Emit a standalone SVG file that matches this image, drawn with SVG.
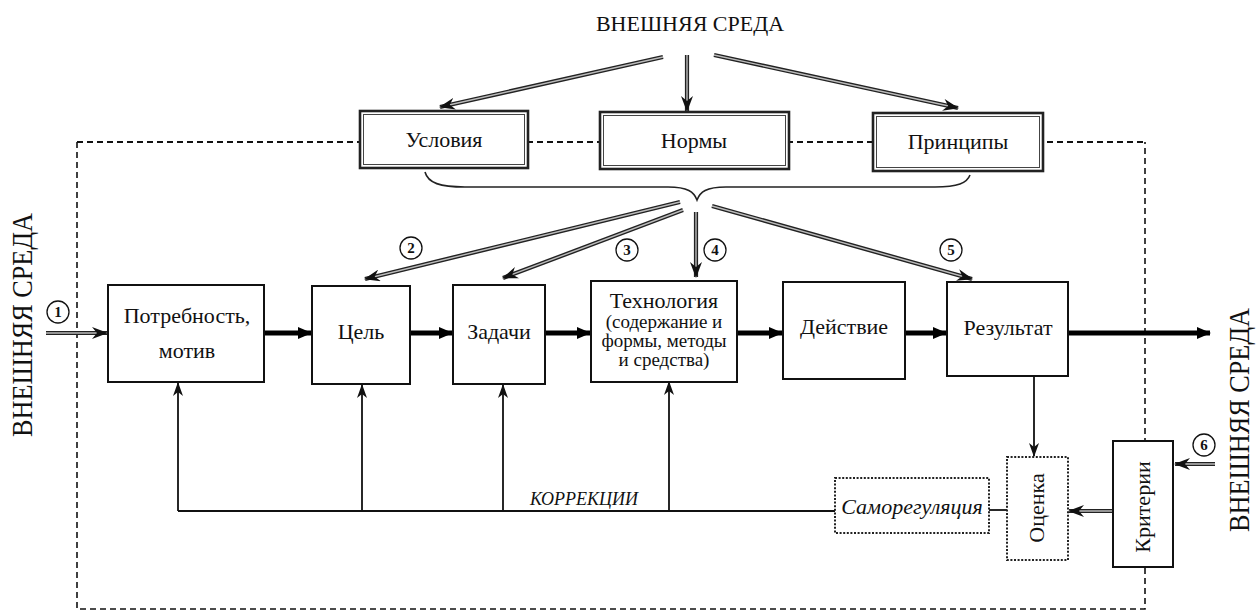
<svg xmlns="http://www.w3.org/2000/svg" xmlns:xlink="http://www.w3.org/1999/xlink" width="1256" height="612" viewBox="0 0 1256 612">
<style>
text{font-family:"Liberation Serif","Times New Roman",serif;fill:#111}
.lbl{font-size:22px;text-anchor:middle}
.sub{font-size:19px;text-anchor:middle}
.it{font-style:italic}
.num{font-size:15px;font-weight:bold;text-anchor:middle}
.side{font-size:30px}
.box{fill:#fff;stroke:#111;stroke-width:2}
.tb{fill:#fff;stroke:#222;stroke-width:2.6}
.tbi{fill:none;stroke:#444;stroke-width:1}
.dot{fill:#fff;stroke:#222;stroke-width:2;stroke-dasharray:2 1.6}
.dash{fill:none;stroke:#111;stroke-width:1.6;stroke-dasharray:6 4}
.dasht{fill:none;stroke:#111;stroke-width:2.2;stroke-dasharray:6 4}
.circ{fill:#fff;stroke:#111;stroke-width:1.3}
.thick{fill:none;stroke:#000;stroke-width:5;marker-end:url(#mThick)}
.thin{fill:none;stroke:#111;stroke-width:1.8}
.thinA{fill:none;stroke:#111;stroke-width:1.8;marker-end:url(#mThin)}
.dO{fill:none;stroke:#222;stroke-width:4.2}
.dI{fill:none;stroke:#bbb;stroke-width:1.4}
.dH{fill:none;stroke:none;marker-end:url(#mDbl)}
.brace{fill:none;stroke:#222;stroke-width:1.6}
</style>
<defs>
<marker id="mThick" markerUnits="userSpaceOnUse" markerWidth="14" markerHeight="12" refX="13" refY="6" orient="auto"><path d="M0,0 L14,6 L0,12 Z" fill="#000"/></marker>
<marker id="mThin" markerUnits="userSpaceOnUse" markerWidth="14" markerHeight="10" refX="13" refY="5" orient="auto"><path d="M0,0 L14,5 L0,10 L4,5 Z" fill="#111"/></marker>
<marker id="mDbl" markerUnits="userSpaceOnUse" markerWidth="16" markerHeight="12" refX="15" refY="6" orient="auto"><path d="M0,0 L16,6 L0,12 L5,6 Z" fill="#111"/></marker>
<path id="t1" d="M663,57 L440,107"/>
<path id="t2" d="M687,55 L687,111"/>
<path id="t3" d="M714,55 L958,108"/>
<path id="b2" d="M680,202 L365,279"/>
<path id="b3" d="M683,210 L503,278"/>
<path id="b4" d="M696,212 L696,277"/>
<path id="b5" d="M712,206 L972,279"/>
<path id="in1" d="M46,333 L107,333"/>
<path id="a6" d="M1215,464 L1175,464"/>
<path id="kr" d="M1113,511 L1069,511"/>
</defs>
<rect x="0" y="0" width="1256" height="612" fill="#fff"/>

<g id="boundary">
<path class="dasht" d="M77,142 L1145,142"/>
<path class="dash" d="M77,142 L77,609 L1145,609 L1145,142"/>
</g>

<g id="env-labels">
<text class="lbl" x="690" y="31">ВНЕШНЯЯ СРЕДА</text>
<text class="side" transform="translate(32,325) rotate(-90)" x="-112" y="0" textLength="224" lengthAdjust="spacingAndGlyphs">ВНЕШНЯЯ СРЕДА</text>
<text class="side" transform="translate(1249,420) rotate(-90)" x="-112" y="0" textLength="224" lengthAdjust="spacingAndGlyphs">ВНЕШНЯЯ СРЕДА</text>
</g>

<g id="connectors">
<use xlink:href="#t1" class="dO"/><use xlink:href="#t1" class="dI"/><use xlink:href="#t1" class="dH"/>
<use xlink:href="#t2" class="dO"/><use xlink:href="#t2" class="dI"/><use xlink:href="#t2" class="dH"/>
<use xlink:href="#t3" class="dO"/><use xlink:href="#t3" class="dI"/><use xlink:href="#t3" class="dH"/>
<path class="brace" d="M425,172 C428,183 440,187 465,187 L668,187 C688,187 694,192 697,200 C700,192 706,187 726,187 L935,187 C958,187 967,183 970,175"/>
<use xlink:href="#b2" class="dO"/><use xlink:href="#b2" class="dI"/><use xlink:href="#b2" class="dH"/>
<use xlink:href="#b3" class="dO"/><use xlink:href="#b3" class="dI"/><use xlink:href="#b3" class="dH"/>
<use xlink:href="#b4" class="dO"/><use xlink:href="#b4" class="dI"/><use xlink:href="#b4" class="dH"/>
<use xlink:href="#b5" class="dO"/><use xlink:href="#b5" class="dI"/><use xlink:href="#b5" class="dH"/>
<use xlink:href="#in1" class="dO"/><use xlink:href="#in1" class="dI"/><use xlink:href="#in1" class="dH"/>
<use xlink:href="#a6" class="dO"/><use xlink:href="#a6" class="dI"/><use xlink:href="#a6" class="dH"/>
<use xlink:href="#kr" class="dO"/><use xlink:href="#kr" class="dI"/><use xlink:href="#kr" class="dH"/>
<path class="thick" d="M264,333 L311,333"/>
<path class="thick" d="M410,333 L452,333"/>
<path class="thick" d="M545,333 L590,333"/>
<path class="thick" d="M737,333 L782,333"/>
<path class="thick" d="M905,333 L946,333"/>
<path class="thick" d="M1068,333 L1210,333"/>
<path class="thin" d="M178,511 L835,511"/>
<path class="thin" d="M989,510 L1007,510"/>
<path class="thinA" d="M178,511 L178,383"/>
<path class="thinA" d="M362,511 L362,385"/>
<path class="thinA" d="M503,511 L503,385"/>
<path class="thinA" d="M669,511 L669,382"/>
<path class="thinA" d="M1034,376 L1034,456"/>
<text class="it" x="530" y="505" font-size="18">КОРРЕКЦИИ</text>
</g>

<g id="num1"><circle class="circ" cx="58" cy="312" r="11"/><text class="num" x="58" y="317">1</text></g>
<g id="num2"><circle class="circ" cx="411" cy="248" r="11"/><text class="num" x="411" y="253">2</text></g>
<g id="num3"><circle class="circ" cx="627" cy="250" r="11"/><text class="num" x="627" y="255">3</text></g>
<g id="num4"><circle class="circ" cx="715" cy="250" r="11"/><text class="num" x="715" y="255">4</text></g>
<g id="num5"><circle class="circ" cx="951" cy="250" r="11"/><text class="num" x="951" y="255">5</text></g>
<g id="num6"><circle class="circ" cx="1204" cy="445" r="11"/><text class="num" x="1204" y="450">6</text></g>

<g id="usloviya"><rect class="tb" x="360" y="111" width="168" height="57"/><rect class="tbi" x="363.5" y="114.5" width="161" height="50"/><text class="lbl" x="444" y="147">Условия</text></g>
<g id="normy"><rect class="tb" x="600" y="112" width="189" height="57"/><rect class="tbi" x="603.5" y="115.5" width="182" height="50"/><text class="lbl" x="694" y="148">Нормы</text></g>
<g id="printsipy"><rect class="tb" x="873" y="113" width="170" height="58"/><rect class="tbi" x="876.5" y="116.5" width="163" height="51"/><text class="lbl" x="958" y="149">Принципы</text></g>

<g id="potrebnost"><rect class="box" x="108" y="285" width="156" height="97"/><text class="lbl" x="187" y="323">Потребность,</text><text class="lbl" x="187" y="358">мотив</text></g>
<g id="tsel"><rect class="box" x="312" y="286" width="98" height="98"/><text class="lbl" x="361" y="339">Цель</text></g>
<g id="zadachi"><rect class="box" x="453" y="285" width="92" height="99"/><text class="lbl" x="499" y="339">Задачи</text></g>
<g id="tekhnologiya"><rect class="box" x="591" y="281" width="146" height="101"/><text class="lbl" x="664" y="308">Технология</text><text class="sub" x="664" y="328">(содержание и</text><text class="sub" x="664" y="347">формы, методы</text><text class="sub" x="664" y="366">и средства)</text></g>
<g id="deystvie"><rect class="box" x="783" y="282" width="122" height="97"/><text class="lbl" x="844" y="334">Действие</text></g>
<g id="rezultat"><rect class="box" x="947" y="282" width="121" height="94"/><text class="lbl" x="1008" y="335">Результат</text></g>

<g id="samoregulyatsiya"><rect class="dot" x="835" y="478" width="154" height="55"/><text class="lbl it" x="912" y="514" font-size="21">Саморегуляция</text></g>
<g id="otsenka"><rect class="dot" x="1007" y="457" width="61" height="103"/><text class="lbl" transform="translate(1044,508) rotate(-90)" x="0" y="0" font-size="24">Оценка</text></g>
<g id="kriterii"><rect class="box" x="1113" y="441" width="60" height="126"/><text class="lbl" transform="translate(1150,507) rotate(-90)" x="0" y="0" font-size="24">Критерии</text></g>
</svg>
